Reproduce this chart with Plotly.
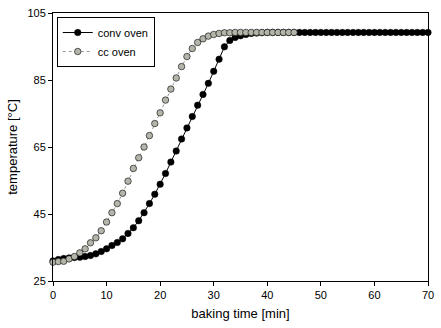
import plotly.graph_objects as go

conv_time = list(range(0, 71))
conv_temp = [31.0, 31.4, 31.7, 31.9, 32.0, 32.1, 32.3, 32.6, 33.1, 33.8,
             34.6, 35.6, 36.5, 37.6, 39.2, 40.9, 43.0, 45.4, 48.1, 50.9,
             53.9, 57.1, 60.5, 63.8, 67.4, 70.7, 74.1, 77.5, 80.7, 84.0,
             87.6, 91.2, 94.9, 96.8, 97.7, 98.2, 98.6, 98.9, 99.0, 99.1,
             99.2, 99.2, 99.2, 99.2, 99.2, 99.2, 99.2, 99.2, 99.2, 99.2,
             99.2, 99.2, 99.2, 99.2, 99.2, 99.2, 99.2, 99.2, 99.2, 99.2,
             99.2, 99.2, 99.2, 99.2, 99.2, 99.2, 99.2, 99.2, 99.2, 99.2, 99.2]

cc_time = list(range(0, 46))
cc_temp = [30.6, 30.8, 30.9, 31.6, 32.3, 33.4, 34.6, 36.4, 37.9, 40.0,
           42.6, 45.4, 48.1, 51.2, 54.8, 58.6, 61.8, 65.0, 68.4, 72.0,
           75.2, 79.0, 82.3, 85.6, 89.0, 92.0, 94.4, 96.2, 97.3, 98.1,
           98.6, 98.9, 99.1, 99.1, 99.2, 99.2, 99.2, 99.2, 99.2, 99.2,
           99.2, 99.2, 99.2, 99.2, 99.2, 99.2]

x_ticks = [0, 10, 20, 30, 40, 50, 60, 70]
y_ticks = [25, 45, 65, 85, 105]

fig = go.Figure()
fig.add_trace(go.Scatter(
    x=conv_time, y=conv_temp, name="conv oven", mode="lines+markers",
    line=dict(color="black", width=1),
    marker=dict(color="black", size=6.5, line=dict(color="black", width=0.5)),
    cliponaxis=False))
fig.add_trace(go.Scatter(
    x=cc_time, y=cc_temp, name="cc oven", mode="lines+markers",
    line=dict(color="#9a9a9a", width=1, dash="dot"),
    marker=dict(color="#b4b4aa", size=6.5, line=dict(color="black", width=0.6)),
    cliponaxis=False))

axis_common = dict(showgrid=False, zeroline=False, showline=True, linecolor="black",
                   linewidth=1, mirror=True, ticks="outside", ticklen=4,
                   tickcolor="black", tickfont=dict(size=11, color="black"))

fig.update_xaxes(range=[0, 70], tickvals=x_ticks, title=dict(text="baking time [min]",
                 font=dict(size=13, color="black"), standoff=8), **axis_common)
fig.update_yaxes(range=[25, 105], tickvals=y_ticks, title=dict(text="temperature [°C]",
                 font=dict(size=13, color="black"), standoff=6), **axis_common)

fig.update_layout(
    width=441, height=328,
    margin=dict(l=53, r=11, t=7, b=47),
    paper_bgcolor="white", plot_bgcolor="white",
    font=dict(family="Liberation Sans, Arial, sans-serif", color="black"),
    showlegend=True,
    legend=dict(x=0.01, y=0.985, xanchor="left", yanchor="top",
                bordercolor="black", borderwidth=1, bgcolor="white",
                font=dict(size=11), tracegroupgap=0, itemwidth=30),
)

fig.write_html("out.html")
